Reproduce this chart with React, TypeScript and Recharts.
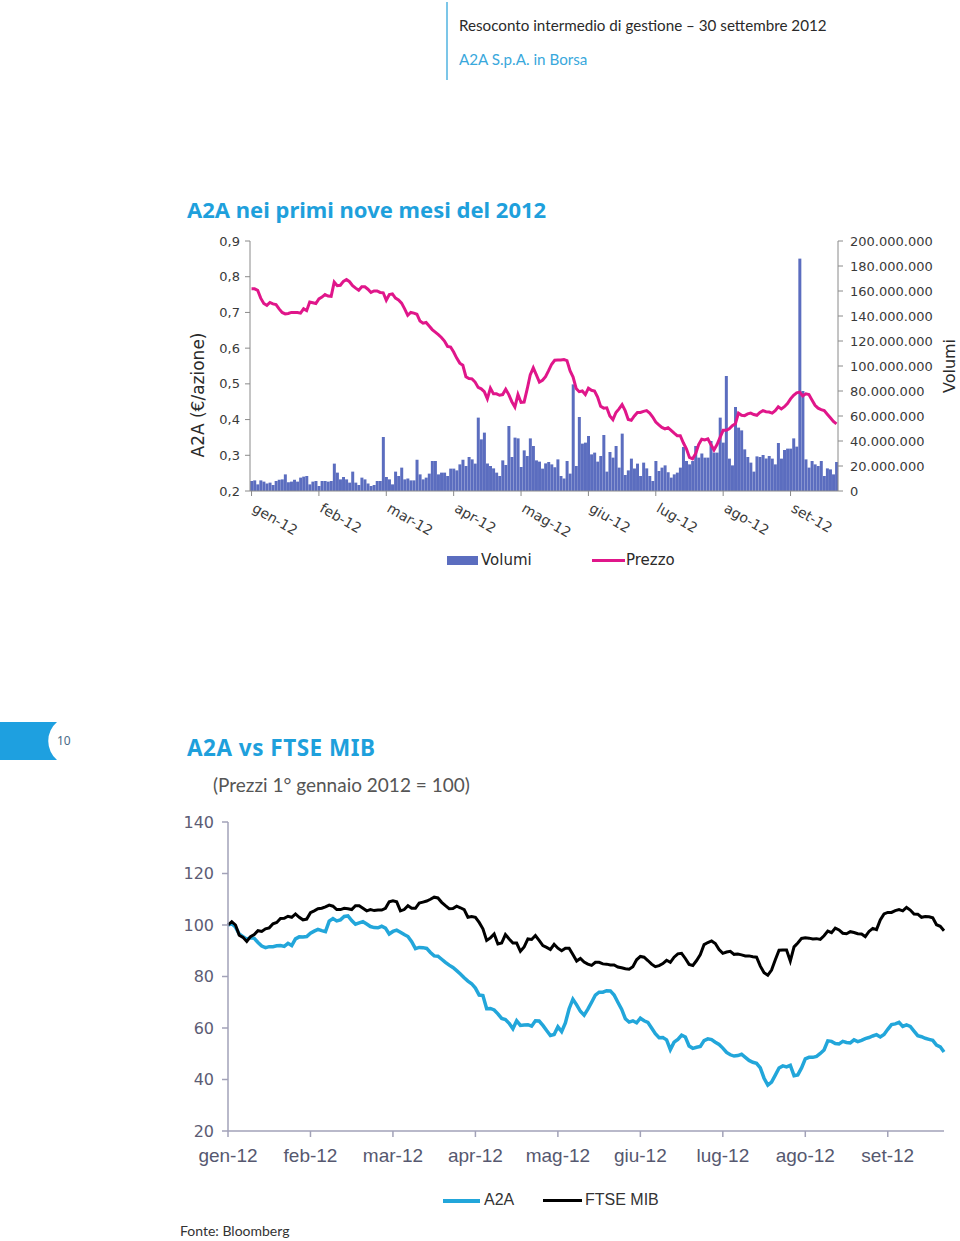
import React from "react";
import { Bar, ComposedChart, Line, LineChart, XAxis, YAxis } from "recharts";

const months = ["gen-12", "feb-12", "mar-12", "apr-12", "mag-12", "giu-12", "lug-12", "ago-12", "set-12"];

// volumi giornalieri, milioni di azioni
const volumi = [
  8, 8.5, 5.3, 8.5, 7.5, 6, 6.7, 4.8, 8, 9, 9.3, 13.3, 7,
  7.5, 9, 7.5, 10.7, 11.5, 12, 5.3, 7.5, 8, 4, 8, 8, 7.5,
  8, 21.9, 14.7, 9.3, 11.2, 9.3, 6.7, 15.5, 6.7, 4.8, 10.7, 9.3, 6,
  4, 4.8, 8, 8, 43.2, 11.2, 9.3, 5.3, 15.5, 12, 18.7, 9.3, 10,
  8.5, 8.5, 25, 13.3, 9.3, 10.7, 13.9, 24, 24, 13.3, 14.7, 14.7, 12,
  17.9, 17.9, 16.5, 21.3, 25, 20, 27.2, 25.3, 21.9, 58.7, 41.3, 46.7, 22,
  20, 18.1, 14.7, 12, 24.5, 20.8, 52, 27.2, 42.7, 42.1, 19.2, 32.5, 28,
  42.1, 36, 24.5, 23.5, 17.9, 22.1, 23.2, 21.3, 19,
  25.3, 12, 10, 24,
  13.9, 85.3, 20, 59.2, 37.9, 38.7, 44, 29.3, 30.7, 23.5, 28,
  44.8, 15.5, 31.2, 26.7, 36, 18.7, 45.9, 12.8, 16.5, 25.9, 18,
  21.9, 12, 22.7, 18.1, 12, 8, 24, 16, 18.7, 20.5, 15,
  10.7, 13.3, 14.7, 18.7, 35.2, 24, 21.3, 24, 36, 26.7, 30,
  26.7, 26.7, 40, 30.7, 30.7, 58.7, 38.7, 92, 25.9, 20.5,
  67.2, 50.7, 48.5, 33.3, 27.2, 22.7, 15.5, 27.7, 27.2, 28.8, 26,
  28, 25.9, 21.3, 38.4, 25.9, 32.8, 33.9, 33.9, 42.1, 35.5,
  185.9, 80, 25.3, 18.7, 24, 21.3, 20, 24, 12, 18.1, 17.3, 13.3, 23.2,
];

const prezzo = [
  0.766, 0.766, 0.762, 0.74, 0.725, 0.72, 0.728, 0.724, 0.722, 0.71,
  0.7, 0.696, 0.697, 0.7, 0.7, 0.7, 0.698, 0.71, 0.705, 0.729,
  0.727, 0.725, 0.738, 0.743, 0.75, 0.746, 0.745, 0.785, 0.775, 0.776,
  0.787, 0.792, 0.786, 0.775, 0.768, 0.762, 0.772, 0.772, 0.765, 0.756,
  0.76, 0.76, 0.756, 0.755, 0.734, 0.75, 0.752, 0.74, 0.735, 0.726,
  0.71, 0.692, 0.7, 0.698, 0.695, 0.676, 0.67, 0.672, 0.662, 0.652,
  0.645, 0.638, 0.63, 0.62, 0.605, 0.603, 0.589, 0.572, 0.558, 0.552,
  0.52, 0.515, 0.514, 0.505, 0.49, 0.486, 0.478, 0.458, 0.488, 0.472,
  0.472, 0.468, 0.47, 0.485, 0.47, 0.45, 0.435, 0.47, 0.448, 0.449,
  0.485, 0.525, 0.545, 0.525, 0.505, 0.51, 0.52, 0.537, 0.555, 0.566,
  0.567, 0.567, 0.568, 0.565, 0.537,
  0.519, 0.487, 0.478, 0.48, 0.47, 0.488, 0.482, 0.48, 0.463, 0.437,
  0.432, 0.433, 0.41, 0.4, 0.42, 0.43, 0.442, 0.425, 0.4, 0.398,
  0.41, 0.42, 0.42, 0.423, 0.425, 0.418, 0.407, 0.393, 0.385, 0.378,
  0.374, 0.377, 0.37, 0.362, 0.355, 0.355, 0.335, 0.318, 0.294, 0.29,
  0.304, 0.33, 0.345, 0.343, 0.346, 0.33, 0.315, 0.33, 0.35, 0.37,
  0.37, 0.374, 0.383, 0.388, 0.418, 0.412, 0.411, 0.416, 0.418, 0.414,
  0.412, 0.42, 0.425, 0.422, 0.421, 0.418, 0.425, 0.436, 0.43, 0.436,
  0.445, 0.458, 0.468, 0.475, 0.477, 0.466, 0.472, 0.47, 0.455, 0.44,
  0.432, 0.428, 0.425, 0.415, 0.405, 0.395, 0.388,
];

const a2a = [
  100, 100.5, 99.2, 96.5, 95.5, 94.5, 95, 94.8, 93.2, 91.8,
  91.2, 91.6, 91.6, 91.9, 92, 91.7, 92.9, 92, 94.6, 95.4,
  95.3, 95.5, 96.8, 97.6, 98.3, 97.8, 97.4, 101.5, 102.5, 101.6,
  102, 103.3, 103.5, 101.7, 100.3, 100.8, 101.3, 100.4, 99.4, 99,
  98.9, 99.5, 98.8, 96.5, 97.5, 98, 97.2, 96.3, 95.5, 93.5,
  90.8, 91.3, 91.2, 90.9, 89.3, 88, 87.9, 86.7, 85.5, 84.4,
  83.5, 82.3, 81, 79.5, 78.2, 77.2, 75.5, 72.8, 72.6, 67.5,
  67.6, 67, 65.5, 63.7, 63.3, 61.8, 59.7, 62.8, 61, 61.2,
  61.3, 60.7, 62.8, 62.7, 61, 59, 57.1, 57.5, 60.5, 58.6,
  62, 67.5, 71.2, 69, 66.5, 65, 67.3, 70, 72.8, 73.9,
  73.9, 74.5, 74.4, 72.8, 70, 67.3, 63.6, 62.3, 62.8, 62,
  63.8, 62.8, 62.2, 60, 57.8, 56.2, 56.3, 55.4, 51.6, 54.5,
  55.6, 57.2, 56.5, 53, 52.1, 52.5, 52.8, 55.1, 55.8, 55.5,
  54.5, 53.6, 52.2, 50.5, 49.6, 49.1, 49.3, 49.8, 48.6, 47.4,
  46.7, 46.3, 44.5, 40.5, 37.8, 39, 41.7, 44.5, 45.3, 44.9,
  45.5, 41.5, 41.8, 44.5, 48, 48.6, 48.6, 49, 50.1, 51.5,
  55, 54.8, 54, 53.8, 54.8, 54.4, 54.2, 55.4, 54.7, 55.2,
  55.9, 56.3, 56.9, 57.4, 56.5, 57.5, 59.5, 61.3, 61.6, 62.2,
  60.6, 61.2, 60.6, 58.8, 57, 56.6, 56, 55.6, 55.2, 53.4,
  52.7, 50.7,
];

const ftseMib = [
  100, 101.3, 100, 96, 95.2, 93.6, 95.5, 96.3, 97.8, 97.5,
  98.5, 98.9, 100.5, 101, 102.5, 102.6, 103.4, 103, 104.3, 103,
  102, 102.3, 104.8, 105.5, 106.3, 106.5, 107, 107.7, 107.3, 106,
  106, 106.5, 106.3, 106, 107.5, 107.5, 106.5, 105.5, 106, 105.6,
  105.8, 105.8, 106.5, 109, 109.4, 109, 105.5, 106, 107.5, 106.5,
  106.5, 108.5, 108.9, 109.3, 110, 110.8, 110.5, 108.8, 107.5, 106.3,
  106.4, 107.3, 106.7, 106, 103, 103.3, 103, 101, 98.5, 94,
  95, 96.5, 92.6, 93, 96.3, 94.6, 93, 93, 89.8, 91.5,
  94.6, 94.4, 95.9, 94, 92, 91.3, 90.5, 92.5, 91, 90,
  91, 91, 88.5, 86, 87, 85.6, 84.8, 84.3, 85.5, 85.5,
  84.9, 84.8, 84.5, 84.5, 83.7, 83.4, 83, 82.8, 83.8, 86.5,
  87.8, 87.5, 86.2, 84.8, 83.8, 84.2, 85, 86.3, 85.5, 87.5,
  88.8, 89, 87, 84.7, 84.3, 86.2, 88.5, 92.4, 93.2, 93.8,
  92.8, 90.5, 89, 89.5, 89.8, 88.6, 88.7, 88.4, 88, 88,
  87.7, 87.5, 84, 81.5, 80.5, 82.5, 86.5, 90.2, 90.3, 90.3,
  86, 91.5, 93, 94.8, 95, 94.9, 94.6, 94.7, 94.4, 95.8,
  97.6, 97, 98.8, 98.1, 96.8, 96.6, 97.4, 97.1, 96.6, 96.5,
  95.5, 97.5, 98.7, 98.2, 102, 104.3, 104.9, 104.9, 105.6, 106,
  105.5, 106.8, 105.8, 104.3, 104.2, 103, 103.3, 103.2, 102.8, 100.1,
  99.5, 97.8,
];

const prezzoTicks = [0.2, 0.3, 0.4, 0.5, 0.6, 0.7, 0.8, 0.9];
const volumiTicks = [0, 20, 40, 60, 80, 100, 120, 140, 160, 180, 200];
const indiceTicks = [20, 40, 60, 80, 100, 120, 140];
const monthTicks = months.map((_, k) => k * 22);

const borsaData = prezzo.map((p, i) => ({ day: i, prezzo: p, volumi: volumi[i] }));
const confrontoData = a2a.map((v, i) => ({ day: i, a2a: v, ftse: ftseMib[i] }));

const BLUE = "#1ea0dc";
const VERDANA = "DejaVu Sans, Verdana, sans-serif";

const fmtMilioni = (v: number) =>
  v === 0 ? "0" : String(v * 1000000).replace(/\B(?=(\d{3})+(?!\d))/g, ".");

function SlantTick({ x, y, payload }: any) {
  return (
    <text
      transform={`translate(${x + 5},${y + 2}) rotate(30)`}
      fontSize={14}
      fontFamily={VERDANA}
      fill="#3a3a3a"
      textAnchor="start"
      dy="0.75em"
    >
      {months[payload.value / 22]}
    </text>
  );
}

function BorsaChart() {
  return (
    <ComposedChart
      width={780}
      height={330}
      data={borsaData}
      margin={{ top: 16, right: 0, bottom: 0, left: 0 }}
      barCategoryGap="5%"
    >
      <XAxis
        dataKey="day"
        ticks={monthTicks}
        interval={0}
        height={64}
        tick={<SlantTick />}
        tickSize={5}
        tickMargin={4}
        stroke="#8a8a8a"
      />
      <YAxis
        yAxisId="p"
        orientation="left"
        width={70}
        domain={[0.2, 0.9]}
        ticks={prezzoTicks}
        tickFormatter={(v: number) => v.toFixed(1).replace(".", ",")}
        tick={{ fontSize: 13, fontFamily: VERDANA, fill: "#3a3a3a" }}
        tickSize={5}
        tickMargin={5}
        stroke="#8a8a8a"
        label={({ viewBox }: any) => (
          <text
            transform={`translate(${viewBox.x + 24},${viewBox.y + viewBox.height / 2 + 29}) rotate(-90)`}
            textAnchor="middle"
            fontSize={17}
            fontFamily={VERDANA}
            fill="#2a2a2a"
          >
            A2A (€/azione)
          </text>
        )}
      />
      <YAxis
        yAxisId="v"
        orientation="right"
        width={122}
        domain={[0, 200]}
        ticks={volumiTicks}
        tickFormatter={fmtMilioni}
        tick={{ fontSize: 13, fontFamily: VERDANA, fill: "#3a3a3a" }}
        tickSize={5}
        tickMargin={7}
        stroke="#8a8a8a"
        label={({ viewBox }: any) => (
          <text
            transform={`translate(${viewBox.x + 117},${viewBox.y + viewBox.height / 2}) rotate(-90)`}
            textAnchor="middle"
            fontSize={16}
            fontFamily={VERDANA}
            fill="#2a2a2a"
          >
            Volumi
          </text>
        )}
      />
      <Bar yAxisId="v" dataKey="volumi" fill="#5b6dbf" isAnimationActive={false} />
      <Line
        yAxisId="p"
        type="linear"
        dataKey="prezzo"
        stroke="#e0168a"
        strokeWidth={3}
        dot={false}
        isAnimationActive={false}
      />
    </ComposedChart>
  );
}

function ConfrontoChart() {
  return (
    <LineChart width={810} height={366} data={confrontoData} margin={{ top: 17, right: 16, bottom: 0, left: 0 }}>
      <XAxis
        dataKey="day"
        ticks={monthTicks}
        interval={0}
        height={40}
        tickFormatter={(v: number) => months[v / 22]}
        tick={{ fontSize: 19, fontFamily: "Liberation Sans, Arial, sans-serif", fill: "#56586f" }}
        tickSize={6}
        tickMargin={12}
        stroke="#a2a2b8"
        strokeWidth={1.5}
      />
      <YAxis
        width={78}
        domain={[20, 140]}
        ticks={indiceTicks}
        tick={{ fontSize: 16, fontFamily: VERDANA, fill: "#5c5c74" }}
        tickSize={6}
        tickMargin={8}
        stroke="#a2a2b8"
        strokeWidth={1.5}
      />
      <Line type="linear" dataKey="a2a" stroke="#22a6da" strokeWidth={3.5} dot={false} isAnimationActive={false} />
      <Line type="linear" dataKey="ftse" stroke="#000000" strokeWidth={3} dot={false} isAnimationActive={false} />
    </LineChart>
  );
}

const abs = (left: number, top: number): React.CSSProperties => ({ position: "absolute", left, top, whiteSpace: "nowrap" });

export default function App() {
  return (
    <div style={{ position: "absolute", left: 0, top: 0, width: 960, height: 1241, background: "#fff", overflow: "hidden" }}>
      {/* intestazione */}
      <div style={{ position: "absolute", left: 446, top: 2, width: 2, height: 78, background: "#7cc6e8" }} />
      <div style={{ ...abs(459, 16), fontFamily: "Lato, sans-serif", fontSize: 15.2, color: "#2a2a2a" }}>
        Resoconto intermedio di gestione – 30 settembre 2012
      </div>
      <div style={{ ...abs(459, 50), fontFamily: "Lato, sans-serif", fontSize: 15.2, color: "#39a8dc" }}>
        A2A S.p.A. in Borsa
      </div>

      <div style={{ ...abs(187, 194), fontFamily: "Noto Sans, sans-serif", fontWeight: 700, fontSize: 22, color: BLUE }}>
        A2A nei primi nove mesi del 2012
      </div>

      <div style={{ position: "absolute", left: 180, top: 225 }}>
        <BorsaChart />
      </div>

      {/* legenda grafico 1 */}
      <div style={{ position: "absolute", left: 447, top: 556, width: 31, height: 9, background: "#5b6dbf" }} />
      <div style={{ ...abs(481, 551), fontFamily: VERDANA, fontSize: 15, color: "#2a2a2a" }}>Volumi</div>
      <div style={{ position: "absolute", left: 592, top: 559, width: 33, height: 3, background: "#e0168a" }} />
      <div style={{ ...abs(626, 551), fontFamily: VERDANA, fontSize: 15, color: "#2a2a2a" }}>Prezzo</div>

      {/* linguetta numero pagina */}
      <svg style={{ position: "absolute", left: 0, top: 720 }} width={110} height={44}>
        <path d="M0 2 H57 A25 25 0 0 0 57 40 H0 Z" fill="#1ea0e0" />
        <text x={57} y={25} fontSize={12} fontFamily="Noto Sans, sans-serif" fill="#4a6a88">10</text>
      </svg>

      <div style={{ ...abs(187, 732), fontFamily: "Noto Sans, sans-serif", fontWeight: 700, fontSize: 22.5, color: BLUE, letterSpacing: 0.5 }}>
        A2A vs FTSE MIB
      </div>
      <div style={{ ...abs(213, 773), fontFamily: "Lato, sans-serif", fontSize: 19, color: "#555555" }}>
        (Prezzi 1° gennaio 2012 = 100)
      </div>

      <div style={{ position: "absolute", left: 150, top: 805 }}>
        <ConfrontoChart />
      </div>

      {/* legenda grafico 2 */}
      <div style={{ position: "absolute", left: 443, top: 1199, width: 37, height: 4, background: "#22a6da" }} />
      <div style={{ ...abs(484, 1191), fontFamily: "Liberation Sans, Arial, sans-serif", fontSize: 16, color: "#333" }}>A2A</div>
      <div style={{ position: "absolute", left: 543, top: 1199, width: 39, height: 3, background: "#000" }} />
      <div style={{ ...abs(585, 1191), fontFamily: "Liberation Sans, Arial, sans-serif", fontSize: 16, color: "#333" }}>FTSE MIB</div>

      <div style={{ ...abs(180, 1222), fontFamily: "Lato, sans-serif", fontSize: 14, color: "#333" }}>Fonte: Bloomberg</div>
    </div>
  );
}
